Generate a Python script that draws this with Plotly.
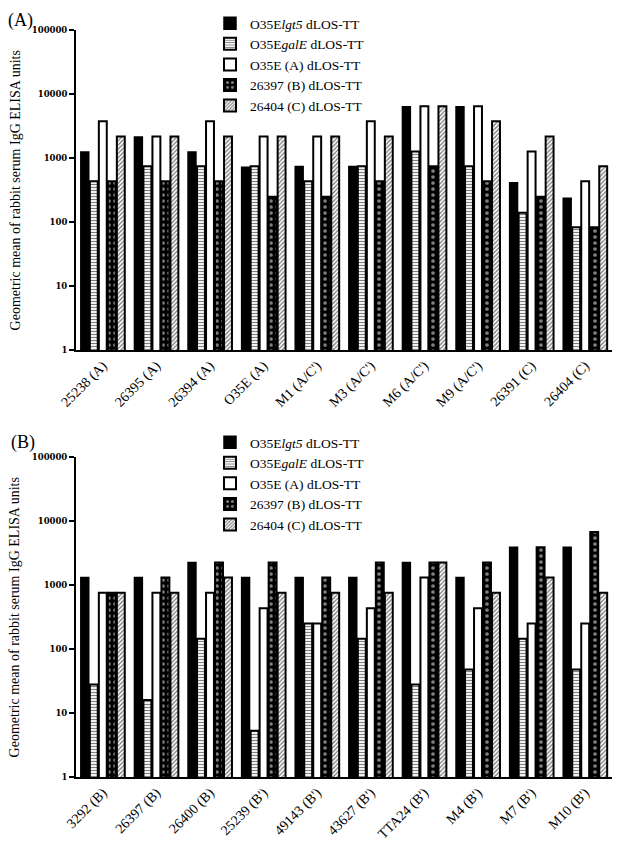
import plotly.graph_objects as go

# ---------------- data ----------------
series_names = [
    "O35E<i>lgt5</i> dLOS-TT",
    "O35E<i>galE</i> dLOS-TT",
    "O35E (A) dLOS-TT",
    "26397 (B) dLOS-TT",
    "26404 (C) dLOS-TT",
]

cats_a = ["25238 (A)", "26395 (A)", "26394 (A)", "O35E (A)", "M1 (A/C')",
          "M3 (A/C')", "M6 (A/C')", "M9 (A/C')", "26391 (C)", "26404 (C)"]
lgt5_a  = [1240, 2120, 1240, 720, 740, 740, 6300, 6300, 410, 235]
galE_a  = [434, 741, 741, 741, 434, 741, 1260, 741, 140, 83]
o35e_a  = [3760, 2170, 3760, 2170, 2170, 3760, 6450, 6450, 1260, 434]
s26397_a = [434, 434, 434, 248, 248, 434, 741, 434, 248, 83]
s26404_a = [2170, 2170, 2170, 2170, 2170, 2170, 6450, 3760, 2170, 741]

cats_b = ["3292 (B)", "26397 (B)", "26400 (B)", "25239 (B')", "49143 (B')",
          "43627 (B')", "TTA24 (B')", "M4 (B')", "M7 (B')", "M10 (B')"]
lgt5_b  = [1310, 1310, 2240, 1310, 1310, 1310, 2240, 1310, 3890, 3890]
galE_b  = [28, 16, 145, 5.3, 251, 145, 28, 48, 145, 48]
o35e_b  = [755, 755, 755, 435, 251, 435, 1310, 435, 251, 251]
s26397_b = [755, 1310, 2240, 2240, 1310, 2240, 2240, 2240, 3890, 6740]
s26404_b = [755, 755, 1310, 755, 755, 755, 2240, 755, 1310, 755]

tick_vals = [1, 10, 100, 1000, 10000, 100000]
tick_text = ["1", "10", "100", "1000", "10000", "100000"]
y_title = "Geometric mean of rabbit serum IgG ELISA units"

# ---------------- styles ----------------
SERIF = "Liberation Serif"
styles = [
    dict(color="black", line=dict(color="black", width=1.5)),
    dict(color="white", line=dict(color="black", width=2),
         pattern=dict(shape="-", fgcolor="black", bgcolor="white", size=3, solidity=0.4)),
    dict(color="white", line=dict(color="black", width=2)),
    dict(color="black", line=dict(color="black", width=2),
         pattern=dict(shape=".", fgcolor="white", bgcolor="black", size=6, solidity=0.3)),
    dict(color="white", line=dict(color="black", width=2),
         pattern=dict(shape="/", fgcolor="black", bgcolor="white", size=3, solidity=0.45)),
]

fig = go.Figure()
panels = [
    (cats_a, [lgt5_a, galE_a, o35e_a, s26397_a, s26404_a], "x", "y", "legend"),
    (cats_b, [lgt5_b, galE_b, o35e_b, s26397_b, s26404_b], "x2", "y2", "legend2"),
]
for cats, vals, xa, ya, lg in panels:
    for name, v, st in zip(series_names, vals, styles):
        fig.add_trace(go.Bar(
            x=cats, y=v, name=name, marker=st, xaxis=xa, yaxis=ya, legend=lg,
            hoverinfo="x+y+name",
        ))

xcommon = dict(showline=True, linewidth=2, linecolor="black", ticks="",
               tickangle=-45, tickfont=dict(family=SERIF, size=14, color="black"),
               showgrid=False, zeroline=False, automargin=False)
ycommon = dict(type="log", range=[0, 5], tickvals=tick_vals, ticktext=tick_text,
               showline=True, linewidth=2, linecolor="black", ticks="outside",
               ticklen=5, tickwidth=2, tickcolor="black",
               tickfont=dict(family="DejaVu Serif", size=8.5, color="black", weight="bold"),
               showgrid=False, zeroline=False, automargin=False)

legcommon = dict(font=dict(family=SERIF, size=13.5, color="black"), xanchor="left",
                 yanchor="top", yref="container", bgcolor="rgba(0,0,0,0)",
                 tracegroupgap=0, itemwidth=30)

fig.update_layout(
    width=615, height=840,
    margin=dict(l=68, r=11, t=22, b=71, autoexpand=False),
    plot_bgcolor="white", paper_bgcolor="white",
    barmode="group", bargap=0.16, bargroupgap=0.12,
    xaxis=dict(domain=[0, 1], anchor="y", **xcommon),
    yaxis=dict(domain=[0.5716, 1], anchor="x", **ycommon),
    xaxis2=dict(domain=[0, 1], anchor="y2", **xcommon),
    yaxis2=dict(domain=[0, 0.4284], anchor="x2", **ycommon),
    legend=dict(x=0.25, y=1.03, **legcommon),
    legend2=dict(x=0.25, y=0.5012, **legcommon),
    annotations=[
        dict(text="(A)", x=-0.103, y=1.0295, xref="paper", yref="paper",
             xanchor="center", yanchor="top", showarrow=False,
             font=dict(family=SERIF, size=18, color="black")),
        dict(text="(B)", x=-0.098, y=0.4484, xref="paper", yref="paper",
             xanchor="center", yanchor="middle", showarrow=False,
             font=dict(family=SERIF, size=18, color="black")),
        dict(text=y_title, x=-0.113, y=(0.5716 + 1) / 2, xref="paper", yref="paper",
             textangle=-90, xanchor="center", yanchor="middle", showarrow=False,
             font=dict(family=SERIF, size=14, color="black")),
        dict(text=y_title, x=-0.113, y=0.4284 / 2, xref="paper", yref="paper",
             textangle=-90, xanchor="center", yanchor="middle", showarrow=False,
             font=dict(family=SERIF, size=14, color="black")),
    ],
)

fig.write_html("out.html")
